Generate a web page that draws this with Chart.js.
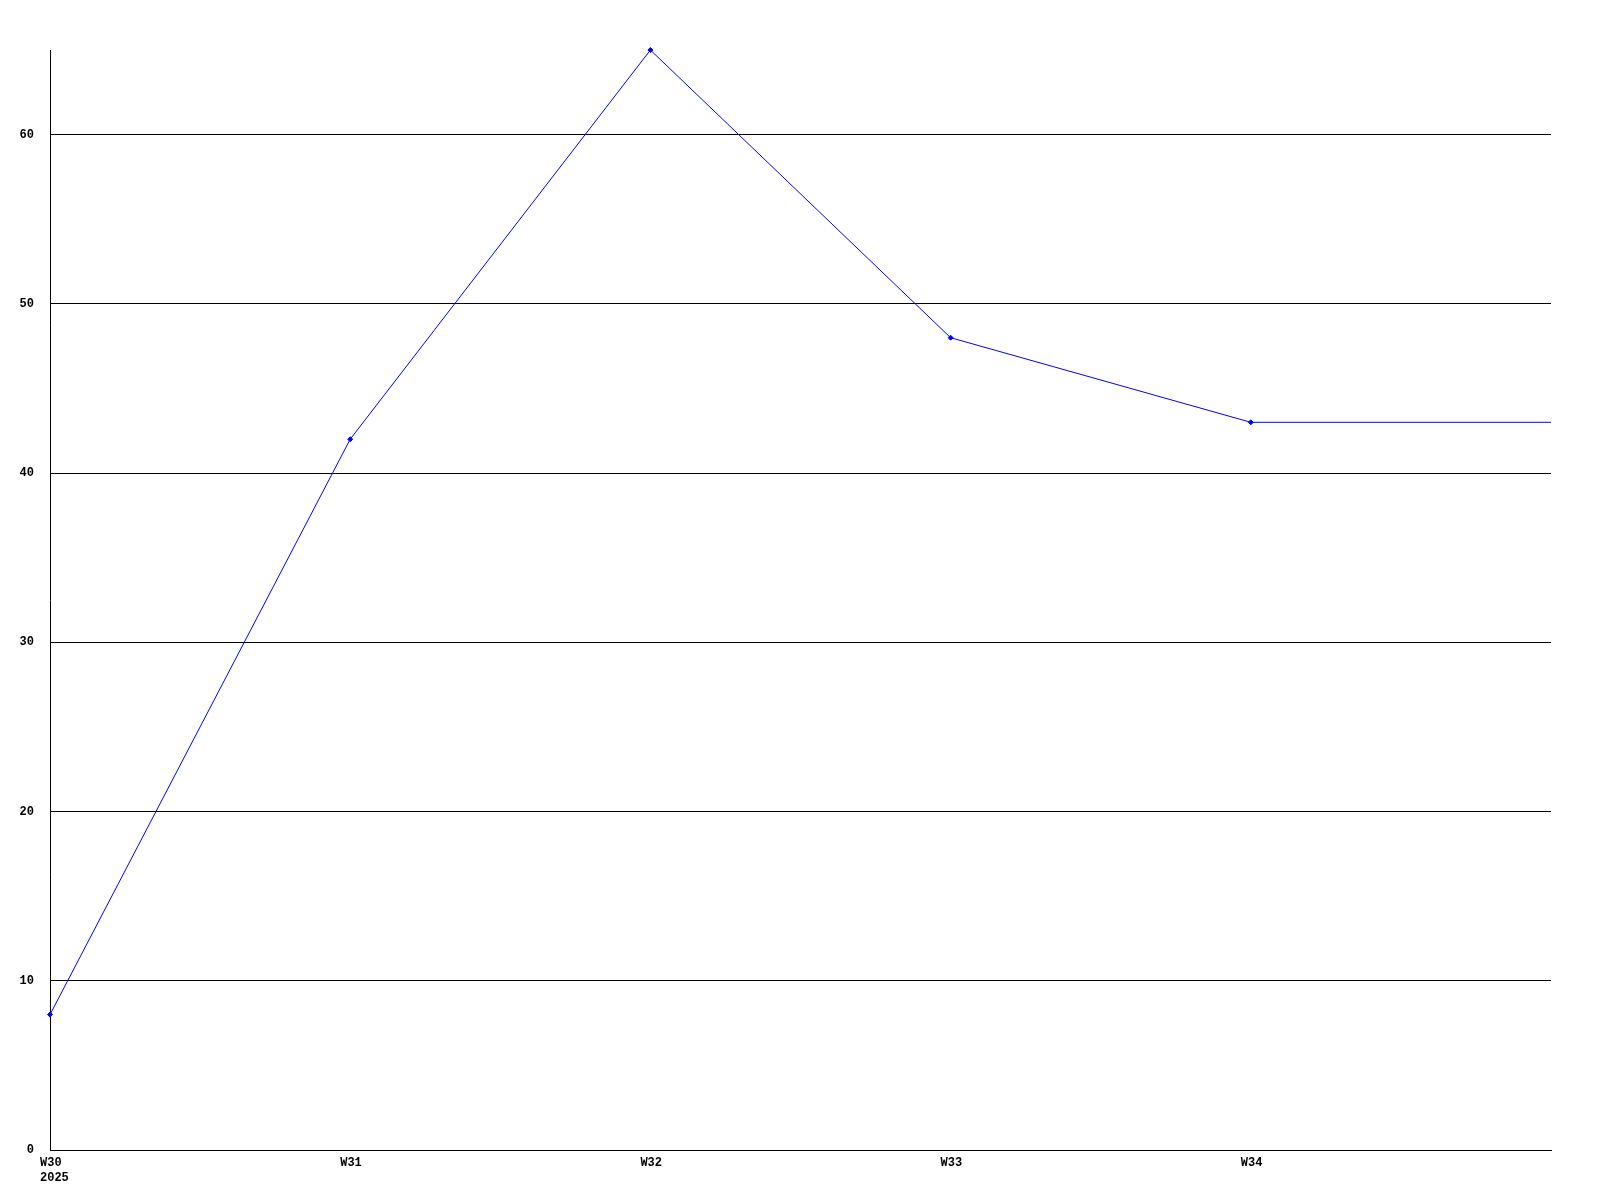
<!DOCTYPE html>
<html>
<head>
<meta charset="utf-8">
<style>
  html, body { margin: 0; padding: 0; background: #ffffff; }
  #wrap { width: 1600px; height: 1200px; }
</style>
<script src="https://cdn.jsdelivr.net/npm/chart.js@4/dist/chart.umd.min.js"></script>
</head>
<body>
<div id="wrap"><canvas id="c" width="1600" height="1200"></canvas></div>
<script>
const categories = [['W30', '2025'], 'W31', 'W32', 'W33', 'W34', ''];
const values = [8, 42, 65, 48, 43, 43];
const pointSizes = [2.5, 2.5, 2.5, 2.5, 2.5, 0];
const yTicks = [0, 10, 20, 30, 40, 50, 60];
const yMax = 65;

const tickFont = { family: '"Liberation Mono", "DejaVu Sans Mono", monospace', size: 12, weight: 'bold', lineHeight: 1.25 };

new Chart(document.getElementById('c'), {
  type: 'line',
  data: {
    labels: categories,
    datasets: [{
      data: values,
      borderColor: '#0000ff',
      backgroundColor: '#0000ff',
      borderWidth: 1,
      pointRadius: pointSizes,
      pointHoverRadius: pointSizes,
      pointStyle: 'rectRot',
      pointBorderWidth: 1,
      tension: 0,
      fill: false,
      clip: false
    }]
  },
  options: {
    responsive: false,
    animation: false,
    events: [],
    layout: { padding: { left: 0, top: 50, right: 49, bottom: 0 } },
    plugins: { legend: { display: false }, tooltip: { enabled: false } },
    scales: {
      x: {
        type: 'category',
        offset: false,
        grid: { display: true, drawOnChartArea: false, drawTicks: false },
        border: { display: true, color: '#000000', width: 1 },
        ticks: {
          color: '#000000',
          font: tickFont,
          align: 'start',
          labelOffset: -10,
          padding: 5,
          maxRotation: 0,
          autoSkip: false
        },
        afterFit: (s) => { s.height = 50; }
      },
      y: {
        min: 0,
        max: yMax,
        grid: { color: '#000000', lineWidth: 1, drawTicks: false },
        border: { display: true, color: '#000000', width: 1 },
        ticks: {
          color: '#000000',
          font: tickFont,
          padding: 16
        },
        afterBuildTicks: (s) => { s.ticks = yTicks.map(v => ({ value: v })); },
        afterFit: (s) => { s.width = 50; }
      }
    }
  }
});
</script>
</body>
</html>
